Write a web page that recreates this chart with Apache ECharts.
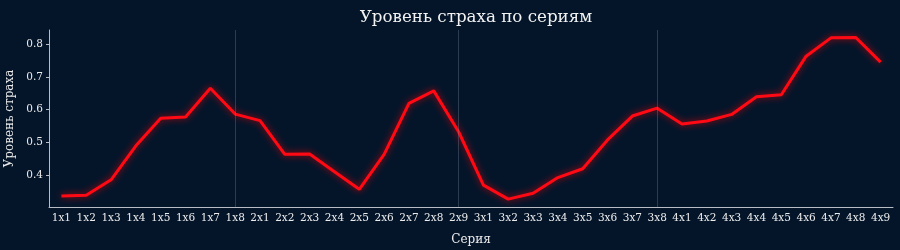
<!DOCTYPE html>
<html><head><meta charset="utf-8">
<script src="https://cdn.jsdelivr.net/npm/echarts@6/dist/echarts.min.js"></script>
<style>html,body{margin:0;padding:0;background:#04152a;}#c{width:900px;height:250px;}</style>
</head><body><div id="c"></div>
<script>
var categories = ['1x1','1x2','1x3','1x4','1x5','1x6','1x7','1x8',
  '2x1','2x2','2x3','2x4','2x5','2x6','2x7','2x8','2x9',
  '3x1','3x2','3x3','3x4','3x5','3x6','3x7','3x8',
  '4x1','4x2','4x3','4x4','4x5','4x6','4x7','4x8','4x9'];
var fear = [0.336,0.338,0.385,0.489,0.573,0.577,0.665,0.586,
  0.566,0.463,0.464,0.410,0.356,0.463,0.619,0.657,0.532,
  0.369,0.326,0.344,0.392,0.419,0.507,0.580,0.604,
  0.556,0.565,0.585,0.639,0.645,0.763,0.819,0.820,0.745];
var seasonEnds = ['1x8','2x9','3x8'];
var yTicks = [0.4,0.5,0.6,0.7,0.8];

var font = 'DejaVu Serif';
var txt = '#ececec';
var chart = echarts.init(document.getElementById('c'));
chart.setOption({
  backgroundColor: '#04152a',
  animation: false,
  title: {text: 'Уровень страха по сериям', left: 471, textAlign: 'center', top: 4,
    textStyle: {color: '#f2f2f2', fontFamily: font, fontSize: 16.7, fontWeight: 'normal'}},
  grid: {left: 49, right: 7, top: 30, bottom: 43, outerBoundsMode: 'none'},
  xAxis: {type: 'category', data: categories, boundaryGap: true,
    name: 'Серия', nameLocation: 'middle', nameGap: 27,
    nameTextStyle: {color: txt, fontFamily: font, fontSize: 12},
    axisLine: {lineStyle: {color: '#b8bcc4', width: 1}},
    axisTick: {show: false},
    axisLabel: {color: txt, fontFamily: font, fontSize: 10.5, interval: 0, margin: 6}},
  yAxis: {type: 'value', min: 0.302, max: 0.843,
    name: 'Уровень страха', nameLocation: 'middle', nameGap: 31,
    nameTextStyle: {color: txt, fontFamily: font, fontSize: 12},
    axisLine: {show: true, lineStyle: {color: '#b8bcc4', width: 1}},
    splitLine: {show: false},
    axisLabel: {color: txt, fontFamily: font, fontSize: 10.5, margin: 6,
      customValues: yTicks, formatter: function(v){return v.toFixed(1);}},
    axisTick: {show: true, length: 3, customValues: yTicks, lineStyle: {color: '#b8bcc4'}}},
  series: [{type: 'line', data: fear, symbol: 'none',
    lineStyle: {color: '#ff0a14', width: 3, shadowColor: 'rgba(255,0,0,0.75)', shadowBlur: 7},
    markLine: {silent: true, symbol: 'none', label: {show: false},
      lineStyle: {color: 'rgba(140,150,170,0.3)', type: 'solid', width: 1},
      data: seasonEnds.map(function(s){return {xAxis: s};})}}]
});
</script></body></html>
